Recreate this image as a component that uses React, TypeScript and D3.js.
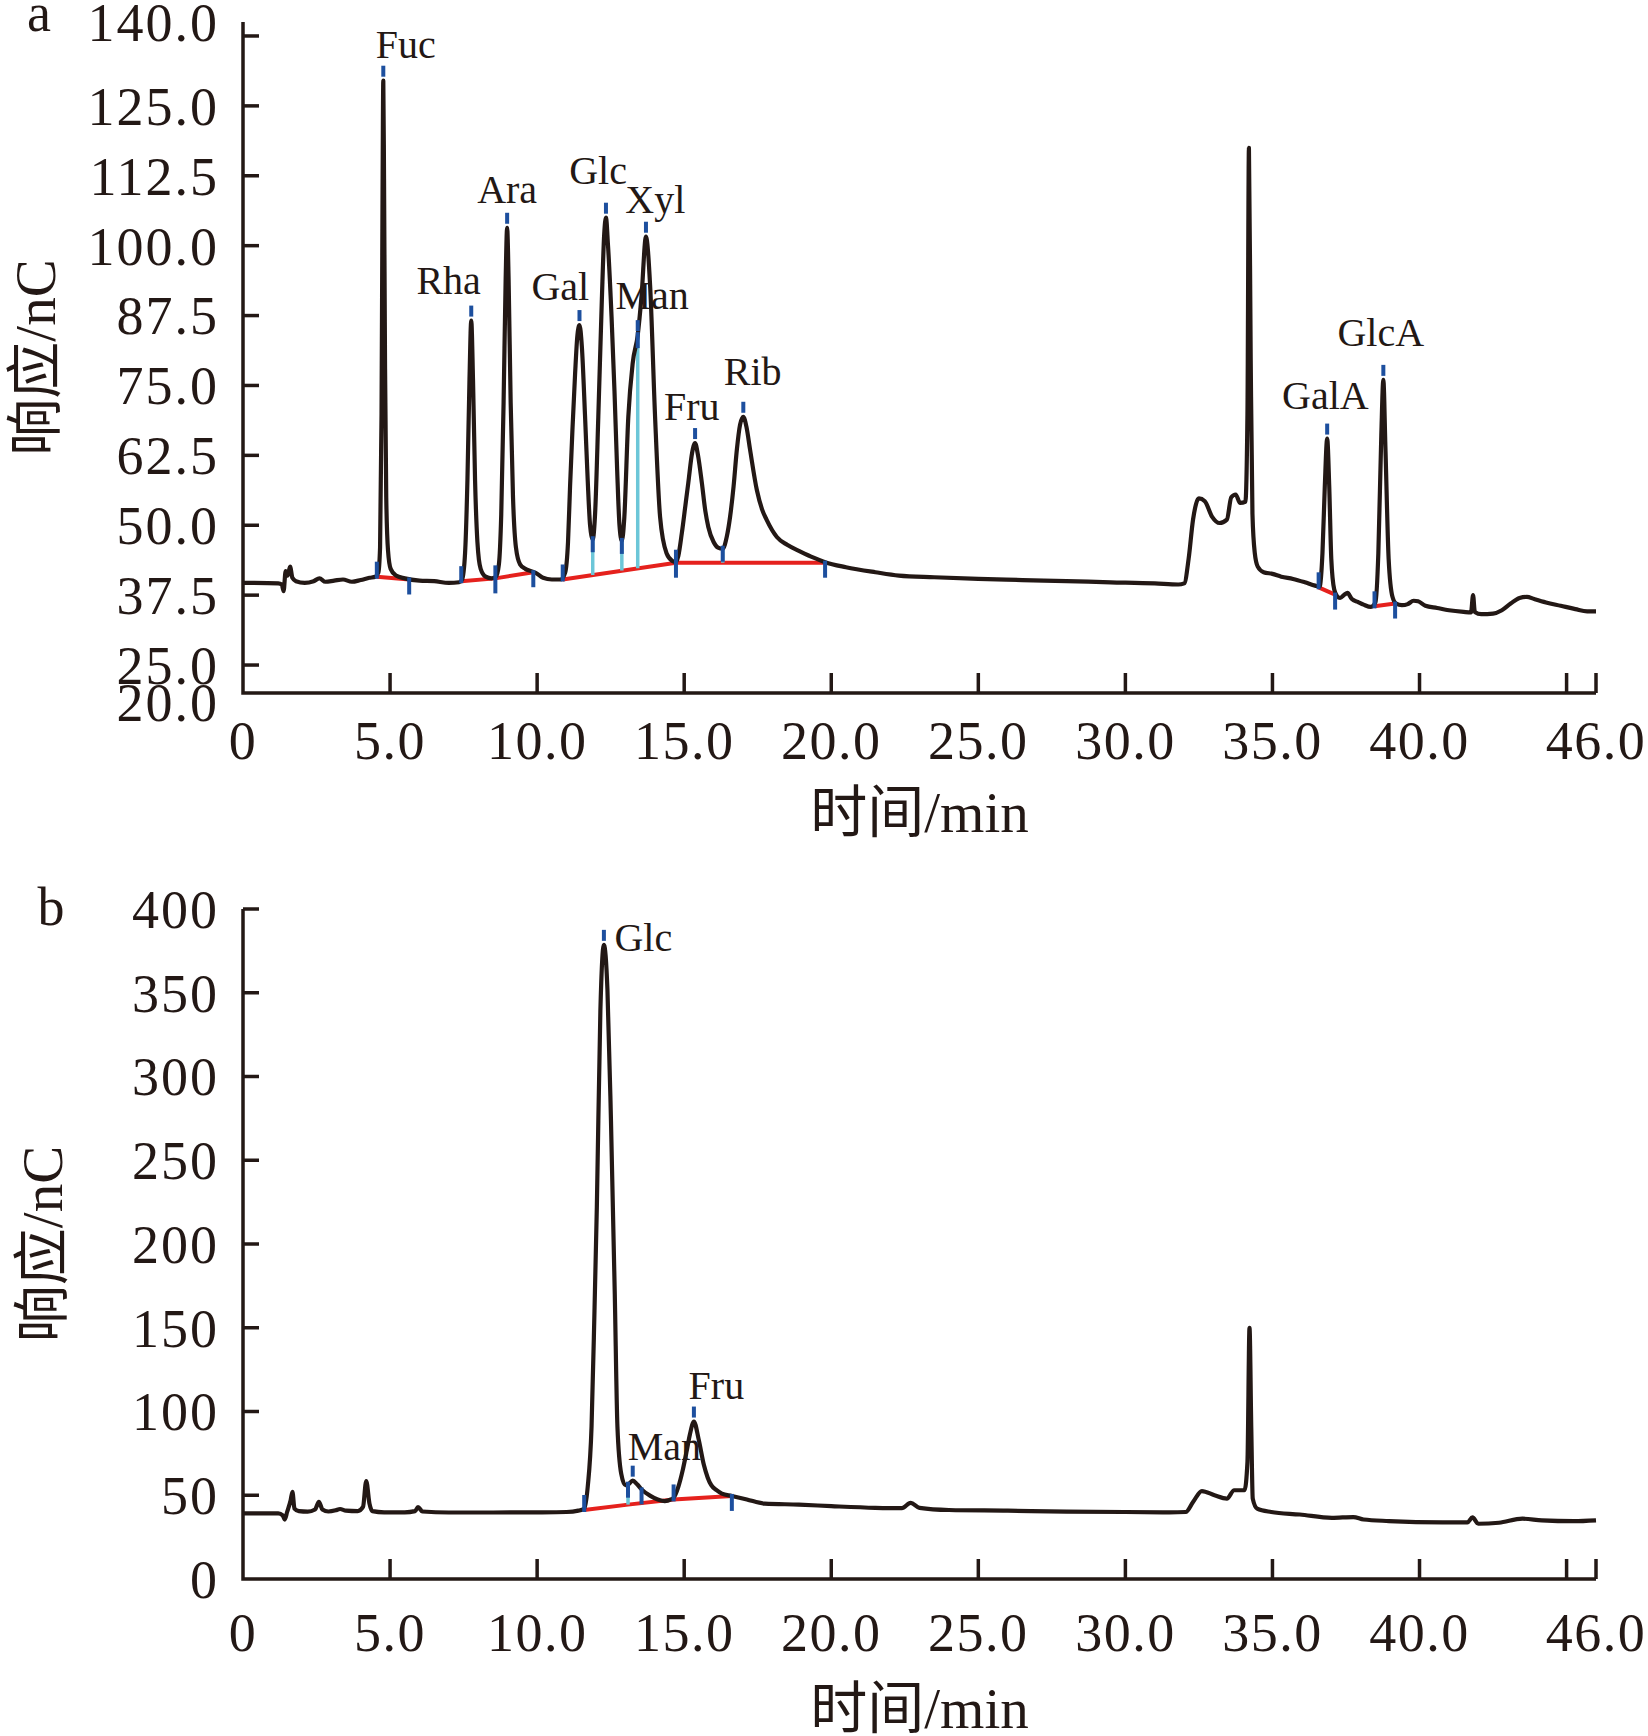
import React from "react";
import * as d3 from "d3";

// ---------- DATA ----------
// Panel a: mixed standard chromatogram  [time (min), response (nC)]
const traceA: [number, number][] = [
  [0, 39.7], [1.2, 39.6], [1.32, 39.4], [1.38, 38.2], [1.45, 41.8], [1.52, 41.0], [1.6, 42.6], [1.68, 40.6],
  [1.8, 40.0], [2.1, 39.7], [2.4, 40.0], [2.6, 40.5], [2.8, 39.9], [3.1, 40.1], [3.4, 40.3], [3.7, 39.9],
  [4.0, 40.2], [4.3, 40.6], [4.5, 40.8],
  [4.6, 41.5], [4.66, 46], [4.71, 70], [4.745, 110], [4.77, 129.5], [4.795, 112], [4.83, 78], [4.87, 55],
  [4.93, 45.5], [5.02, 42.2], [5.2, 41.0], [5.5, 40.5], [6.0, 40.1], [6.5, 40.0], [7.0, 39.7], [7.35, 39.8],
  [7.45, 40.3], [7.55, 45], [7.63, 58], [7.7, 76], [7.76, 86.6], [7.82, 76], [7.89, 58], [7.97, 47],
  [8.08, 42.2], [8.25, 40.8], [8.45, 40.5], [8.6, 40.8],
  [8.7, 43], [8.78, 52], [8.86, 72], [8.93, 94], [8.98, 103.2], [9.03, 94], [9.1, 72], [9.18, 55],
  [9.28, 46], [9.42, 43], [9.6, 42.2], [9.8, 41.8], [9.95, 41.5], [10.2, 40.6], [10.5, 40.3], [10.8, 40.3],
  [10.95, 41.5], [11.05, 47], [11.12, 57], [11.2, 67], [11.29, 77], [11.37, 84], [11.44, 85.8], [11.52, 82],
  [11.63, 69.4], [11.72, 58], [11.8, 50], [11.89, 47.5],
  [11.97, 52], [12.08, 69.4], [12.2, 90.3], [12.28, 102], [12.34, 105], [12.41, 100], [12.53, 87.3],
  [12.63, 74], [12.72, 60], [12.8, 50], [12.88, 47.2],
  [12.96, 51], [13.1, 69.4], [13.25, 79], [13.42, 84], [13.55, 91], [13.7, 101.6], [13.84, 93],
  [14.01, 69.4], [14.18, 51.5], [14.4, 45], [14.6, 43.6], [14.71, 43.4],
  [14.8, 44.5], [14.92, 48.6], [15.04, 53.5], [15.14, 57.6], [15.27, 63], [15.37, 64.7], [15.47, 62.5],
  [15.6, 57.6], [15.72, 52.5], [15.82, 49.7], [16.0, 47.0], [16.15, 46.0], [16.31, 45.8],
  [16.45, 48], [16.56, 51.5], [16.68, 57], [16.79, 63.5], [16.9, 68], [17.01, 69.4], [17.12, 67.5],
  [17.24, 63.5], [17.47, 56.3], [17.65, 52.8], [17.8, 51.0], [18.15, 47.9], [18.5, 46.5], [18.95, 45.3],
  [19.4, 44.2], [19.79, 43.4], [20.5, 42.5], [21.5, 41.6], [22.3, 41.0], [23.5, 40.7], [25.0, 40.4],
  [26.5, 40.2], [28.0, 40.0], [29.5, 39.8], [31.0, 39.6], [31.8, 39.4], [32.0, 39.6],
  [32.15, 44], [32.3, 51], [32.5, 54.8], [32.7, 54.3], [32.95, 51.5], [33.2, 50.4], [33.45, 51],
  [33.6, 55], [33.75, 55.5], [33.9, 54.0], [34.08, 54.2], [34.15, 70], [34.2, 117.5], [34.26, 80],
  [34.32, 52], [34.4, 45], [34.5, 42.6], [34.7, 41.6], [35.0, 41.3], [35.3, 40.8], [35.7, 40.4],
  [36.1, 39.8], [36.45, 39.2],
  [36.6, 39.0], [36.7, 45], [36.78, 57], [36.86, 65.5], [36.93, 57], [37.0, 44], [37.1, 38.5],
  [37.2, 37.3], [37.3, 37.0], [37.45, 37.6], [37.55, 37.9], [37.7, 36.8], [37.9, 36.3], [38.1, 35.8],
  [38.35, 35.4],
  [38.5, 36.2], [38.6, 45], [38.7, 66], [38.77, 76], [38.84, 64], [38.95, 44], [39.08, 37.2], [39.2, 36.0],
  [39.4, 35.7], [39.6, 35.9], [39.8, 36.5], [39.95, 36.4], [40.2, 35.6], [40.6, 35.2], [41.0, 34.8],
  [41.5, 34.5], [41.75, 34.4], [41.82, 37.5], [41.88, 34.5], [42.1, 34.1], [42.5, 34.2], [42.8, 34.8],
  [43.1, 36.0], [43.4, 37.0], [43.65, 37.2], [43.9, 36.8], [44.3, 36.2], [44.8, 35.6], [45.3, 35.0],
  [45.7, 34.6], [46.0, 34.6],
];

// Panel a integration baselines (red)
const baselinesA: [number, number][][] = [
  [[4.55, 40.8], [5.65, 40.3]],
  [[7.42, 40.0], [8.58, 40.5], [9.87, 41.6]],
  [[10.87, 40.3], [14.72, 43.3], [19.79, 43.3]],
  [[36.57, 38.9], [37.13, 37.6]],
  [[38.47, 35.5], [39.17, 36.0]],
];

// Panel a peak apex: [name, time, response]
const peaksA: [string, number, number][] = [
  ["Fuc", 4.77, 129.5], ["Rha", 7.76, 86.6], ["Ara", 8.98, 103.2], ["Gal", 11.44, 85.8],
  ["Glc", 12.34, 105], ["Man", 13.42, 84], ["Xyl", 13.7, 101.6], ["Fru", 15.37, 64.7],
  ["Rib", 17.01, 69.4], ["GalA", 36.86, 65.5], ["GlcA", 38.77, 76],
];

// Panel a label anchors: [name, time, response]
const labelsA: [string, number, number][] = [
  ["Fuc", 5.53, 133.6], ["Rha", 6.99, 91.3], ["Ara", 8.98, 107.7], ["Gal", 10.79, 90.2],
  ["Glc", 12.07, 111.1], ["Xyl", 14.02, 105.8], ["Man", 13.91, 88.6], ["Fru", 15.26, 68.8],
  ["Rib", 17.33, 75.1], ["GalA", 36.8, 70.8], ["GlcA", 38.68, 82.1],
];

// Panel a split drop lines: [time, trace response, baseline response]
const dropsA: [number, number, number][] = [
  [11.89, 47.5, 41.1], [12.88, 47.2, 41.9], [13.42, 84, 42.3], [16.31, 45.8, 43.3],
];

// Panel a start/end event marks: [time, response, side]
const eventsA: [number, number, string][] = [
  [4.55, 40.8, "up"], [5.65, 40.3, "down"], [7.42, 40.0, "up"], [8.58, 40.5, "both"],
  [9.87, 41.6, "down"], [10.87, 40.3, "up"], [14.72, 43.3, "both"], [19.79, 43.3, "down"],
  [36.57, 38.9, "up"], [37.13, 37.6, "down"], [38.47, 35.5, "up"], [39.17, 36.0, "down"],
];

// Panel b: sample chromatogram
const traceB: [number, number][] = [
  [0, 39.2], [1.2, 39.2], [1.35, 38.0], [1.42, 35.5], [1.5, 40], [1.62, 47], [1.68, 52], [1.75, 42],
  [1.9, 40.5], [2.2, 40.2], [2.45, 41.5], [2.58, 46], [2.7, 41.5], [2.9, 40.3], [3.15, 41.0], [3.3, 41.8],
  [3.5, 40.8], [3.9, 40.5], [4.08, 43], [4.19, 58.5], [4.3, 45], [4.4, 40.5], [4.8, 39.8], [5.5, 39.8],
  [5.85, 40.5], [5.95, 43], [6.1, 40.3], [7, 39.7], [8.5, 39.7], [10, 39.8], [11.0, 40.0], [11.4, 40.8],
  [11.6, 42], [11.72, 55], [11.85, 91], [11.95, 160], [12.03, 222], [12.15, 339], [12.27, 378.6],
  [12.39, 352], [12.51, 274], [12.64, 170], [12.73, 91], [12.86, 62.7], [13.0, 56], [13.1, 56.5],
  [13.25, 58.7], [13.4, 56.5], [13.55, 53.5], [13.85, 49.6], [14.1, 47.5], [14.34, 46.5], [14.55, 47.5],
  [14.64, 48.5], [14.8, 55], [14.95, 65], [15.08, 76], [15.19, 86], [15.33, 94], [15.49, 83.5],
  [15.67, 68], [15.8, 60.5], [15.92, 56], [16.1, 53], [16.28, 51], [16.62, 49.6], [17.13, 47.5],
  [17.74, 45], [18.9, 44.4], [20, 43.5], [21.5, 42.5], [22.4, 42.3], [22.7, 45.5], [23.0, 42.5],
  [24, 41.2], [26, 40.8], [28, 40.2], [30, 40.0], [31.5, 39.8], [32.05, 40.0], [32.3, 46], [32.6, 52.5],
  [33.03, 50], [33.45, 48], [33.7, 53], [34.05, 53], [34.15, 70], [34.22, 150], [34.28, 90], [34.33, 48],
  [34.48, 42], [34.96, 40], [35.93, 38.5], [37.02, 36.5], [37.75, 37.0], [38.1, 35.5], [38.96, 34.6],
  [40.78, 33.8], [41.63, 33.8], [41.8, 36.8], [42.0, 33.0], [42.7, 33.6], [43.5, 36.0], [44.16, 35.0],
  [45.25, 34.5], [46.0, 35.0],
];

const baselinesB: [number, number][][] = [
  [[11.6, 41.2], [13.09, 44.4], [14.64, 47.5], [16.62, 49.6]],
];

const peaksB: [string, number, number][] = [
  ["Glc", 12.27, 378.6], ["Man", 13.25, 58.7], ["Fru", 15.33, 94],
];

const labelsB: [string, number, number][] = [
  ["Glc", 12.63, 375], ["Man", 13.08, 71.3], ["Fru", 15.15, 107.6],
];

const dropsB: [number, number, number][] = [[13.09, 56.3, 44.4]];

const eventsB: [number, number, string][] = [
  [11.6, 41.2, "up"], [13.55, 53.5, "down"], [14.64, 47.5, "up"], [16.62, 49.6, "down"],
];

// Axis ticks
const xTickMarks = [5, 10, 15, 20, 25, 30, 35, 40, 45, 46];
const xTickLabels = [0, 5, 10, 15, 20, 25, 30, 35, 40, 46];
const yTickMarksA = [25, 37.5, 50, 62.5, 75, 87.5, 100, 112.5, 125, 137.5];
const yTickLabelsA = [20, 25, 37.5, 50, 62.5, 75, 87.5, 100, 112.5, 125, 140];
const yTickMarksB = [50, 100, 150, 200, 250, 300, 350, 400];
const yTickLabelsB = [0, 50, 100, 150, 200, 250, 300, 350, 400];

const xTitle = "时间/min";
const yTitle = "响应/nC";

// ---------- STYLE ----------
const W = 1648;
const H = 1736;
const INK = "#231815";
const RED = "#e5211d";
const DBLUE = "#1d4f9e";
const LBLUE = "#6cc6d8";
const FONT = "'Liberation Serif', 'Times New Roman', 'Noto Sans CJK SC', serif";

type PanelProps = {
  letter: string;
  yDomain: [number, number];
  yRange: [number, number];
  trace: [number, number][];
  baselines: [number, number][][];
  peaks: [string, number, number][];
  labels: [string, number, number][];
  labelAnchor: string;
  drops: [number, number, number][];
  events: [number, number, string][];
  yMarks: number[];
  yLabels: number[];
  yFmt: (v: number) => string;
  bottomLabelShift: number;
  xLabelDy: number;
  xTitleY: number;
  yTitleX: number;
  letterPos: [number, number];
};

const x = d3.scaleLinear().domain([0, 46]).range([243, 1596]);

function Panel(p: PanelProps) {
  const y = d3.scaleLinear().domain(p.yDomain).range(p.yRange);
  const line = d3
    .line<[number, number]>()
    .x((d) => x(d[0]))
    .y((d) => y(d[1]))
    .curve(d3.curveMonotoneX);
  const straight = d3
    .line<[number, number]>()
    .x((d) => x(d[0]))
    .y((d) => y(d[1]));
  const y0 = p.yRange[0];
  const yTop = p.yRange[1];
  const x0 = x(0);
  const xEnd = x(46);
  const mark = 4;
  const xFmt = (v: number) => (v === 0 ? "0" : v.toFixed(1));
  return (
    <g>
      {/* peak labels (drawn below trace) */}
      {p.labels.map(([name, t, v]) => (
        <text
          key={"l" + name}
          x={x(t)}
          y={y(v)}
          textAnchor={p.labelAnchor}
          fontSize={40}
          fontFamily={FONT}
          fill={INK}
        >
          {name}
        </text>
      ))}
      {/* red baselines */}
      {p.baselines.map((seg, i) => (
        <path key={"b" + i} d={straight(seg) || ""} fill="none" stroke={RED} strokeWidth={4} />
      ))}
      {/* light blue drop lines */}
      {p.drops.map(([t, v, b], i) => (
        <line key={"d" + i} x1={x(t)} x2={x(t)} y1={y(v)} y2={y(b)} stroke={LBLUE} strokeWidth={3.5} />
      ))}
      {/* trace */}
      <path d={line(p.trace) || ""} fill="none" stroke={INK} strokeWidth={4.2} strokeLinejoin="round" />
      {/* drop top marks */}
      {p.drops.map(([t, v], i) => (
        <line key={"dm" + i} x1={x(t)} x2={x(t)} y1={y(v) - 3} y2={y(v) + 13} stroke={DBLUE} strokeWidth={mark} />
      ))}
      {/* start / end marks */}
      {p.events.map(([t, v, side], i) => {
        const yy = y(v);
        const [a, b] = side === "up" ? [yy - 15, yy + 2] : side === "down" ? [yy - 2, yy + 15] : [yy - 13, yy + 15];
        return <line key={"e" + i} x1={x(t)} x2={x(t)} y1={a} y2={b} stroke={DBLUE} strokeWidth={mark} />;
      })}
      {/* apex marks */}
      {p.peaks.map(([name, t, v]) => (
        <line
          key={"p" + name}
          x1={x(t)}
          x2={x(t)}
          y1={y(v) - 15}
          y2={y(v) - 4}
          stroke={DBLUE}
          strokeWidth={mark}
        />
      ))}
      {/* axes */}
      <path d={`M${x0},${yTop}V${y0}H${xEnd}`} fill="none" stroke={INK} strokeWidth={3.5} />
      {p.yMarks.map((v) => (
        <line key={"yt" + v} x1={x0} x2={x0 + 16} y1={y(v)} y2={y(v)} stroke={INK} strokeWidth={3.5} />
      ))}
      {xTickMarks.map((v) => (
        <line key={"xt" + v} x1={x(v)} x2={x(v)} y1={y0} y2={y0 - 20} stroke={INK} strokeWidth={3.5} />
      ))}
      {p.yLabels.map((v, i) => (
        <text
          key={"yl" + v}
          x={219}
          y={y(v) + (i === 0 ? p.bottomLabelShift : 0)}
          dy="0.35em"
          textAnchor="end"
          fontSize={54}
          fontFamily={FONT}
          fill={INK}
          letterSpacing={2}
        >
          {p.yFmt(v)}
        </text>
      ))}
      {xTickLabels.map((v) => (
        <text
          key={"xl" + v}
          x={x(v)}
          y={y0 + p.xLabelDy}
          textAnchor="middle"
          fontSize={54}
          fontFamily={FONT}
          fill={INK}
          letterSpacing={1.5}
        >
          {xFmt(v)}
        </text>
      ))}
      <text x={(x0 + xEnd) / 2} y={p.xTitleY} textAnchor="middle" fontSize={57} fontFamily={FONT} fill={INK}>
        {xTitle}
      </text>
      <text
        transform={`translate(${p.yTitleX},${(y0 + yTop) / 2}) rotate(-90)`}
        dy="0.35em"
        textAnchor="middle"
        fontSize={57}
        fontFamily={FONT}
        fill={INK}
      >
        {yTitle}
      </text>
      <text x={p.letterPos[0]} y={p.letterPos[1]} textAnchor="middle" fontSize={54} fontFamily={FONT} fill={INK}>
        {p.letter}
      </text>
    </g>
  );
}

export default function App() {
  return (
    <svg
      width={W}
      height={H}
      viewBox={`0 0 ${W} ${H}`}
      style={{ position: "absolute", left: 0, top: 0, background: "#fff" }}
    >
      <rect width={W} height={H} fill="#fff" />
      <Panel
        letter="a"
        yDomain={[20, 140]}
        yRange={[693, 22]}
        trace={traceA}
        baselines={baselinesA}
        peaks={peaksA}
        labels={labelsA}
        labelAnchor="middle"
        drops={dropsA}
        events={eventsA}
        yMarks={yTickMarksA}
        yLabels={yTickLabelsA}
        yFmt={(v) => v.toFixed(1)}
        bottomLabelShift={9}
        xLabelDy={66}
        xTitleY={832}
        yTitleX={35}
        letterPos={[39, 31]}
      />
      <Panel
        letter="b"
        yDomain={[0, 400]}
        yRange={[1579, 909]}
        trace={traceB}
        baselines={baselinesB}
        peaks={peaksB}
        labels={labelsB}
        labelAnchor="start"
        drops={dropsB}
        events={eventsB}
        yMarks={yTickMarksB}
        yLabels={yTickLabelsB}
        yFmt={(v) => String(v)}
        bottomLabelShift={0}
        xLabelDy={72}
        xTitleY={1728}
        yTitleX={42}
        letterPos={[51, 925]}
      />
    </svg>
  );
}
